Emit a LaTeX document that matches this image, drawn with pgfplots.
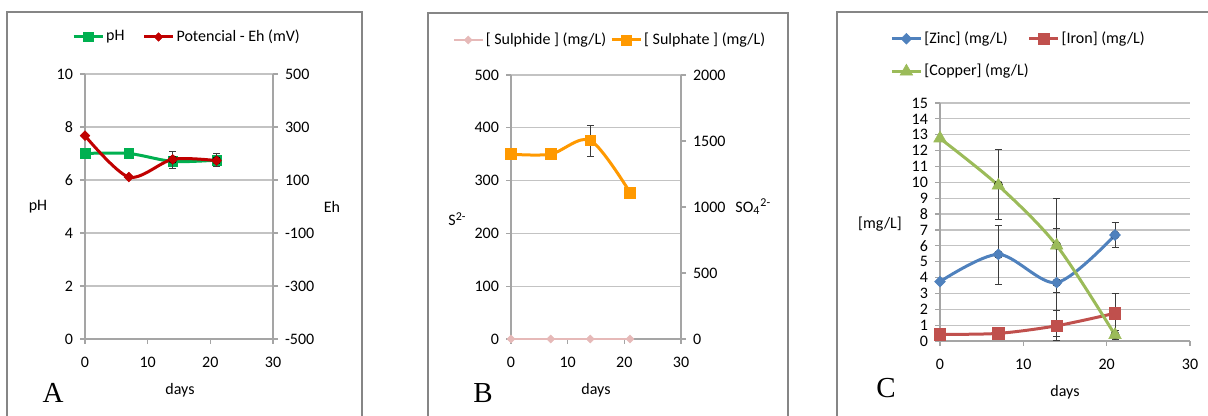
\documentclass[border=0pt]{standalone}
\usepackage{pgfplots}
\pgfplotsset{compat=1.18}
\usepackage{fontspec}
\setmainfont{Carlito}
\newfontfamily\letterfont{Liberation Serif}

\definecolor{phgreen}{RGB}{0,176,80}
\definecolor{ehred}{RGB}{192,0,0}
\definecolor{sulphide}{RGB}{230,185,184}
\definecolor{sulphate}{RGB}{255,153,0}
\definecolor{zinc}{RGB}{79,129,189}
\definecolor{iron}{RGB}{192,80,77}
\definecolor{copper}{RGB}{155,187,89}
\definecolor{gridc}{RGB}{195,195,195}
\definecolor{axisc}{RGB}{165,165,165}
\definecolor{framec}{RGB}{134,134,134}
\definecolor{errc}{RGB}{60,60,60}

\newcommand\fsz{\fontsize{8}{9.6}\selectfont}

\pgfplotsset{
  excel/.style={
    scale only axis, anchor=south west, clip=false,
    tick label style={font=\fsz},
    tick align=outside, major tick length=2.5pt,
    axis line style={-, draw=axisc, line width=0.6pt},
    tick style={draw=axisc, line width=0.6pt},
    grid style={draw=gridc, line width=0.6pt},
    /pgf/number format/assume math mode=true,
    /pgf/number format/1000 sep={},
    scaled ticks=false,
    xmin=0, xmax=30, xtick={0,10,20,30},
    xticklabel style={yshift=-3pt},
    legend cell align=left,
    legend style={draw=none, fill=none, font=\fsz, inner sep=0pt,
      nodes={inner xsep=1pt, inner ysep=1.5pt},
      /tikz/every even column/.append style={column sep=8pt}},
    legend image code/.code={\draw[mark repeat=2,mark phase=2]
      plot coordinates {(0pt,0pt) (7.25pt,0pt) (14.5pt,0pt)};},
    error bars/error bar style={draw=errc, line width=0.5pt, solid},
    error bars/error mark options={draw=errc, line width=0.5pt, mark size=1.75pt, rotate=90},
  },
  errs/.style={only marks, mark=none, forget plot,
    error bars/.cd, y dir=both, y explicit},
}

\begin{document}
\begin{tikzpicture}
\path[use as bounding box] (0,0) rectangle (604pt,208pt);
\draw[framec, line width=0.75pt] (3.5pt,-5pt) rectangle (181pt,202pt);
\draw[framec, line width=0.75pt] (214pt,-5pt) rectangle (394pt,201.5pt);
\draw[framec, line width=0.75pt] (418.5pt,-5pt) rectangle (615pt,202pt);

% ---------- A: pH / Eh
\begin{axis}[excel, at={(42.5pt,38.5pt)}, width=94pt, height=132.5pt,
  axis x line*=bottom, axis y line*=left,
  ymin=0, ymax=10, ytick={0,2,...,10}, ymajorgrids,
  legend columns=2,
  legend style={at={(rel axis cs:0.5,1)}, anchor=center, xshift=4pt, yshift=18.5pt}]
\addplot[phgreen, line width=1.5pt, smooth, mark=square*,
  mark options={solid, fill=phgreen, line width=0.3pt, mark size=2.4pt}]
  coordinates {(0,7.0) (7,7.0) (14,6.70) (21,6.75)};
\addlegendentry{pH}
\addlegendimage{ehred, line width=1.5pt, mark=square*,
  mark options={solid, fill=ehred, line width=0.3pt, rotate=45, mark size=1.5pt}}
\addlegendentry{Potencial - Eh (mV)}
\end{axis}
\begin{axis}[excel, at={(42.5pt,38.5pt)}, width=94pt, height=132.5pt,
  axis x line=none, axis y line*=right,
  ymin=-500, ymax=500, ytick={-500,-300,...,500}]
\addplot[errs] coordinates {(14,177) +- (0,32) (21,174) +- (0,25)};
\addplot[ehred, line width=1.5pt, smooth, mark=square*,
  mark options={solid, fill=ehred, line width=0.3pt, rotate=45, mark size=1.7pt}]
  coordinates {(0,267) (7,111) (14,178) (21,173)};
\end{axis}

% ---------- B: sulphide / sulphate
\begin{axis}[excel, at={(255.5pt,38.5pt)}, width=85pt, height=132pt,
  axis x line*=bottom, axis y line*=left,
  ymin=0, ymax=500, ytick={0,100,...,500}, ymajorgrids,
  legend columns=2,
  legend style={at={(rel axis cs:0.5,1)}, anchor=center, xshift=7pt, yshift=17.5pt,
    /tikz/every even column/.append style={column sep=1pt}}]
\addplot[sulphide, line width=1pt, smooth, mark=square*,
  mark options={solid, fill=sulphide, line width=0.3pt, rotate=45, mark size=1.4pt}]
  coordinates {(0,0) (7,0) (14,0) (21,0)};
\addlegendentry{[ Sulphide ] (mg/L)}
\addlegendimage{sulphate, line width=1.5pt, mark=square*,
  mark options={solid, fill=sulphate, line width=0.3pt, mark size=2.5pt}}
\addlegendentry{[ Sulphate ] (mg/L)}
\end{axis}
\begin{axis}[excel, at={(255.5pt,38.5pt)}, width=85pt, height=132pt,
  axis x line=none, axis y line*=right,
  ymin=0, ymax=2000, ytick={0,500,...,2000}]
\addplot[errs] coordinates {(14,1500) +- (0,120)};
\addplot[sulphate, line width=1.5pt, smooth, mark=square*,
  mark options={solid, fill=sulphate, line width=0.3pt, mark size=2.7pt}]
  coordinates {(0,1400) (7,1400) (14,1505) (21,1110)};
\end{axis}

% ---------- C: metals
\begin{axis}[excel, at={(470pt,37.5pt)}, width=125pt, height=119pt,
  axis x line*=bottom, axis y line*=left,
  ymin=0, ymax=15, ytick={0,1,...,15}, ymajorgrids,
  legend columns=2,
  legend style={at={(rel axis cs:0,1)}, anchor=north west, xshift=-25pt, yshift=37.5pt,
    row sep=6pt, /tikz/every even column/.append style={column sep=-1.5pt}}]
\addplot[errs] coordinates {(7,5.45) +- (0,1.86) (14,3.68) +- (0,3.42) (21,6.68) +- (0,0.78)};
\addplot[errs] coordinates {(14,0.97) +- (0,0.95) (21,1.75) +- (0,1.25)};
\addplot[errs] coordinates {(7,9.85) +- (0,2.2) (14,6.03) +- (0,2.97) (21,0.38) +- (0,0.3)};
\addplot[zinc, line width=1.5pt, smooth, mark=square*,
  mark options={solid, fill=zinc, line width=0.3pt, rotate=45, mark size=1.9pt}]
  coordinates {(0,3.74) (7,5.46) (14,3.68) (21,6.68)};
\addlegendentry{[Zinc] (mg/L)}
\addplot[iron, line width=1.5pt, smooth, mark=square*,
  mark options={solid, fill=iron, line width=0.3pt, mark size=2.8pt}]
  coordinates {(0,0.42) (7,0.48) (14,0.96) (21,1.75)};
\addlegendentry{[Iron] (mg/L)}
\addplot[copper, line width=1.5pt, smooth, mark=triangle*,
  mark options={solid, fill=copper, line width=0.3pt, mark size=3.6pt}]
  coordinates {(0,12.77) (7,9.8) (14,6.02) (21,0.38)};
\addlegendentry{[Copper] (mg/L)}
\end{axis}

% ---------- labels
\node[font=\fsz] at (19pt,104.5pt) {pH};
\node[font=\fsz] at (166pt,104.5pt) {Eh};
\node[font=\fsz] at (90pt,13pt) {days};
\node[font=\letterfont\fontsize{14.5}{16}\selectfont] at (26.5pt,11.5pt) {A};

\node[font=\fsz, anchor=west, inner sep=0pt] at (224pt,98.5pt) {S\textsuperscript{2-}};
\node[font=\fsz, anchor=west, inner sep=0pt] at (367.5pt,104.5pt) {SO\textsubscript{4}\textsuperscript{2-}};
\node[font=\fsz] at (298pt,13pt) {days};
\node[font=\letterfont\fontsize{14.5}{16}\selectfont] at (241.5pt,11.5pt) {B};

\node[font=\fsz] at (440pt,96pt) {[mg/L]};
\node[font=\fsz] at (532.5pt,12pt) {days};
\node[font=\letterfont\fontsize{14.5}{16}\selectfont] at (443pt,14pt) {C};
\end{tikzpicture}
\end{document}
